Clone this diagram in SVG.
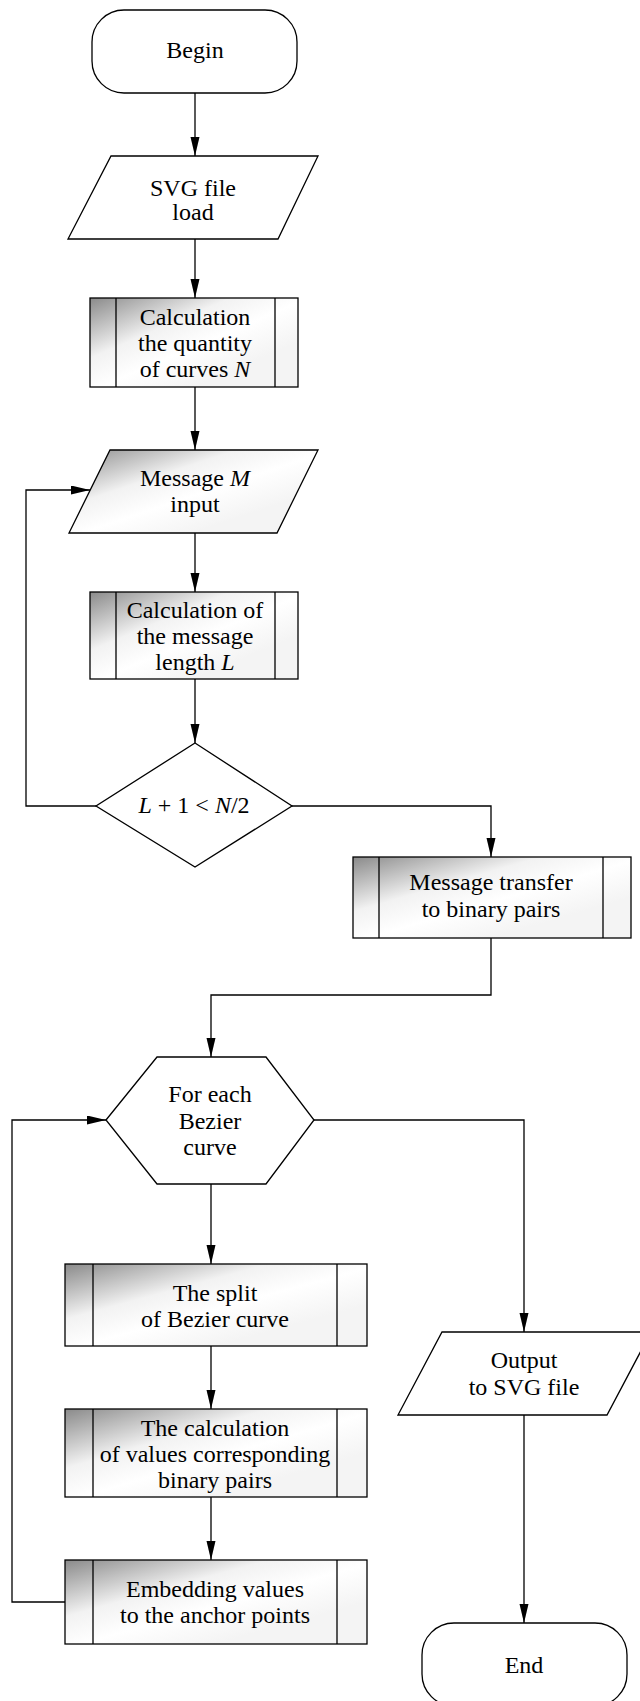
<svg xmlns="http://www.w3.org/2000/svg" width="640" height="1701" viewBox="0 0 640 1701">
<defs>
<style>
.s{stroke:#000;stroke-width:1.3;fill:#fff}
.g{stroke:#000;stroke-width:1.3;fill:url(#shade)}
.l{stroke:#000;stroke-width:1.3;fill:none}
.c{stroke:#000;stroke-width:1.3;fill:none;marker-end:url(#arr)}
text{font-family:"Liberation Serif","Times New Roman",serif;font-size:24px;fill:#000;text-anchor:middle}
.i{font-style:italic}
</style>
<linearGradient id="shade" x1="0" y1="0" x2="0.75" y2="0.75">
<stop offset="0" stop-color="#8a8a8a"/>
<stop offset="0.45" stop-color="#f2f2f2"/>
<stop offset="0.7" stop-color="#ffffff"/>
<stop offset="1" stop-color="#f4f4f4"/>
</linearGradient>
<marker id="arr" markerUnits="userSpaceOnUse" markerWidth="20" markerHeight="10" refX="19" refY="4.5" orient="auto">
<path d="M0,0 L19,4.5 L0,9 z" fill="#000"/>
</marker>
</defs>
<rect width="640" height="1701" fill="#fff"/>

<g id="connectors">
<path class="c" d="M195,93 V156"/>
<path class="c" d="M195,239 V298"/>
<path class="c" d="M195,387 V450"/>
<path class="c" d="M195,533 V592"/>
<path class="c" d="M195,679 V743"/>
<path class="c" d="M96,806 H26 V490 H90"/>
<path class="c" d="M292,806 H491 V857"/>
<path class="c" d="M491,938 V995 H211 V1057"/>
<path class="c" d="M211,1184 V1264"/>
<path class="c" d="M211,1346 V1409"/>
<path class="c" d="M211,1497 V1560"/>
<path class="c" d="M65,1602 H12 V1120 H106"/>
<path class="c" d="M314,1120 H524 V1332"/>
<path class="c" d="M524,1415 V1623"/>
</g>

<g id="begin">
<rect class="s" x="92" y="10" width="205" height="83" rx="32"/>
<text x="195" y="58">Begin</text>
</g>

<g id="svgload">
<polygon class="s" points="111,156 318,156 278,239 68,239"/>
<text x="193" y="196">SVG file</text>
<text x="193" y="220">load</text>
</g>

<g id="calcN">
<rect class="g" x="90" y="298" width="208" height="89"/>
<path class="l" d="M116,298 V387 M275,298 V387"/>
<text x="195" y="325">Calculation</text>
<text x="195" y="351">the quantity</text>
<text x="195" y="377">of curves <tspan class="i">N</tspan></text>
</g>

<g id="inputM">
<polygon class="g" points="110,450 318,450 277,533 69,533"/>
<text x="195" y="486">Message <tspan class="i">M</tspan></text>
<text x="195" y="512">input</text>
</g>

<g id="calcL">
<rect class="g" x="90" y="592" width="208" height="87"/>
<path class="l" d="M116,592 V679 M275,592 V679"/>
<text x="195" y="618">Calculation of</text>
<text x="195" y="644">the message</text>
<text x="195" y="670">length <tspan class="i">L</tspan></text>
</g>

<g id="decision">
<polygon class="s" points="195,743 292,806 195,867 96,806"/>
<text x="194" y="813"><tspan class="i">L</tspan> + 1 &lt; <tspan class="i">N</tspan>/2</text>
</g>

<g id="transfer">
<rect class="g" x="353" y="857" width="278" height="81"/>
<path class="l" d="M379,857 V938 M603,857 V938"/>
<text x="491" y="890">Message transfer</text>
<text x="491" y="917">to binary pairs</text>
</g>

<g id="foreach">
<polygon class="s" points="106,1120 157,1057 266,1057 314,1120 266,1184 157,1184"/>
<text x="210" y="1102">For each</text>
<text x="210" y="1129">Bezier</text>
<text x="210" y="1155">curve</text>
</g>

<g id="split">
<rect class="g" x="65" y="1264" width="302" height="82"/>
<path class="l" d="M93,1264 V1346 M337,1264 V1346"/>
<text x="215" y="1301">The split</text>
<text x="215" y="1327">of Bezier curve</text>
</g>

<g id="calcvalues">
<rect class="g" x="65" y="1409" width="302" height="88"/>
<path class="l" d="M93,1409 V1497 M337,1409 V1497"/>
<text x="215" y="1436">The calculation</text>
<text x="215" y="1462">of values corresponding</text>
<text x="215" y="1488">binary pairs</text>
</g>

<g id="embedding">
<rect class="g" x="65" y="1560" width="302" height="84"/>
<path class="l" d="M93,1560 V1644 M337,1560 V1644"/>
<text x="215" y="1597">Embedding values</text>
<text x="215" y="1623">to the anchor points</text>
</g>

<g id="output">
<polygon class="s" points="442,1332 651,1332 607,1415 398,1415"/>
<text x="524" y="1368">Output</text>
<text x="524" y="1395">to SVG file</text>
</g>

<g id="end">
<rect class="s" x="422" y="1623" width="205" height="83" rx="32"/>
<text x="524" y="1673">End</text>
</g>
</svg>
